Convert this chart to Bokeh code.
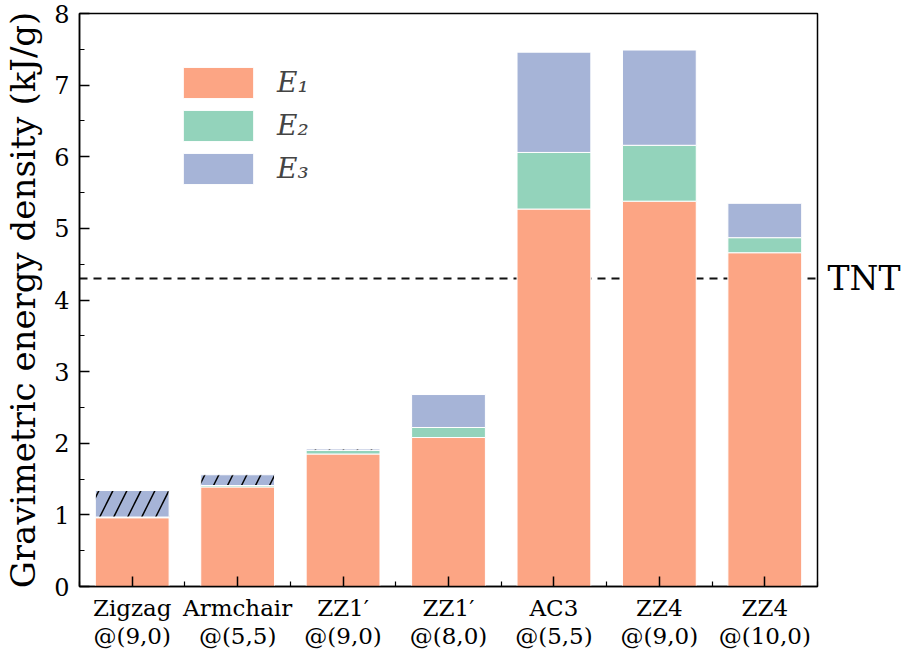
from bokeh.plotting import figure
from bokeh.models import ColumnDataSource, Range1d, FixedTicker, LinearAxis, Span, Legend, LegendItem
from bokeh.embed import file_html
from bokeh.resources import INLINE

# ---- data ----
categories = ["Zigzag\n@(9,0)", "Armchair\n@(5,5)", "ZZ1\u2032\n@(9,0)", "ZZ1\u2032\n@(8,0)",
              "AC3\n@(5,5)", "ZZ4\n@(9,0)", "ZZ4\n@(10,0)"]
E1 = [0.96, 1.39, 1.85, 2.08, 5.27, 5.38, 4.66]
E2 = [0.01, 0.02, 0.05, 0.14, 0.79, 0.78, 0.21]
E3 = [0.37, 0.15, 0.02, 0.46, 1.40, 1.33, 0.48]
hatched = ["/", "/", "/", " ", " ", " ", " "]
TNT = 4.3
TNT_label = "TNT"

FONT = "DejaVu Serif"
c1, c2, c3 = "#FCA584", "#93D3BB", "#A6B4D7"

xs = list(range(len(categories)))
b1 = E1
b2 = [a + b for a, b in zip(E1, E2)]
b3 = [a + b for a, b in zip(b2, E3)]
src = ColumnDataSource(dict(x=xs, E1=E1, E2=E2, E3=E3, b0=[0] * len(xs), b1=b1, b2=b2, b3=b3,
                            hatch=hatched))

x_lo, x_hi = -0.5, len(categories) - 0.5
p = figure(width=903, height=652, output_backend="svg", toolbar_location=None,
           x_range=Range1d(x_lo, x_hi), y_range=Range1d(0, 8),
           min_border_left=71, min_border_right=80, min_border_top=13, min_border_bottom=56)
p.grid.visible = False
p.outline_line_color = "black"
p.outline_line_width = 1.5
p.background_fill_color = "white"

# TNT reference line (behind bars)
p.add_layout(Span(location=TNT, dimension="width", line_color="#111111", line_width=1.8,
                  line_dash="8 6", level="underlay"))

w = 0.7
r1 = p.vbar(x="x", bottom="b0", top="b1", width=w, source=src, fill_color=c1,
            line_color="white", line_width=1)
r2 = p.vbar(x="x", bottom="b1", top="b2", width=w, source=src, fill_color=c2,
            line_color="white", line_width=1)
r3 = p.vbar(x="x", bottom="b2", top="b3", width=w, source=src, fill_color=c3,
            line_color="white", line_width=1, hatch_pattern="hatch", hatch_color="black",
            hatch_weight=1.5, hatch_scale=28)

legend = Legend(items=[LegendItem(label="E\u2081", renderers=[r1], index=3),
                       LegendItem(label="E\u2082", renderers=[r2], index=3),
                       LegendItem(label="E\u2083", renderers=[r3], index=3)],
                location=(95, 398), padding=0, margin=0, spacing=4,
                glyph_width=88, glyph_height=39, label_height=39, label_standoff=15,
                border_line_color=None, background_fill_alpha=0,
                label_text_font=FONT, label_text_font_size="28px",
                label_text_font_style="italic", label_text_baseline="middle")
p.add_layout(legend, "center")

# axes styling
ya = p.yaxis[0]
ya.ticker = FixedTicker(ticks=[0, 1, 2, 3, 4, 5, 6, 7, 8],
                        minor_ticks=[0.5, 1.5, 2.5, 3.5, 4.5, 5.5, 6.5, 7.5])
ya.axis_label = "Gravimetric energy density (kJ/g)"
ya.axis_label_text_font = FONT
ya.axis_label_text_font_size = "34px"
ya.axis_label_text_font_style = "normal"
ya.axis_label_standoff = 8
ya.major_label_text_font = FONT
ya.major_label_text_font_size = "24px"
ya.major_label_standoff = 10

xa = p.xaxis[0]
xa.ticker = FixedTicker(ticks=xs, minor_ticks=[i + 0.5 for i in range(-1, len(xs))])
xa.major_label_overrides = {i: c for i, c in enumerate(categories)}
xa.major_label_text_font = FONT
xa.major_label_text_font_size = "23px"
xa.major_label_standoff = 8
xa.major_label_text_line_height = 1.1

for ax in (xa, ya):
    ax.axis_line_color = "black"
    ax.axis_line_width = 1.5
    ax.major_tick_in = 10
    ax.major_tick_out = 0
    ax.minor_tick_in = 5
    ax.minor_tick_out = 0
    ax.major_tick_line_color = "black"
    ax.major_tick_line_width = 1.5
    ax.minor_tick_line_color = "black"
    ax.minor_tick_line_width = 1.2
    ax.major_label_text_color = "black"
    ax.axis_label_text_color = "black"

# TNT marker on the right side, as a one-tick axis
ra = LinearAxis(ticker=FixedTicker(ticks=[TNT], minor_ticks=[]),
                major_label_overrides={TNT: TNT_label},
                axis_line_color=None, major_tick_line_color=None, minor_tick_line_color=None,
                major_tick_in=0, major_tick_out=0, minor_tick_in=0, minor_tick_out=0,
                major_label_text_font=FONT, major_label_text_font_size="33px",
                major_label_text_color="black", major_label_standoff=10)
p.add_layout(ra, "right")

open("out.html", "w").write(file_html(p, INLINE))
